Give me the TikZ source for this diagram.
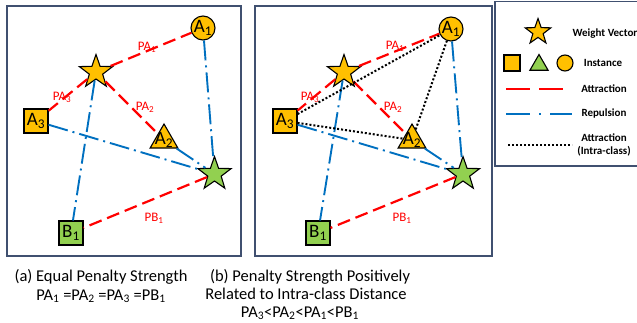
\documentclass[tikz,border=0pt]{standalone}
\usepackage{fontspec}
\setmainfont{Carlito}
\usetikzlibrary{shapes.geometric}
\definecolor{framecol}{RGB}{64,80,112}
\definecolor{yel}{RGB}{255,192,0}
\definecolor{grn}{RGB}{146,208,80}
\definecolor{redc}{RGB}{255,0,0}
\definecolor{bluec}{RGB}{0,112,192}
\tikzset{
  panel/.style={draw=framecol, line width=1.3pt},
  attr/.style={draw=redc, line width=2.2pt, dash pattern=on 13pt off 6pt},
  rep/.style={draw=bluec, line width=1.9pt, dash pattern=on 20pt off 5pt on 2pt off 5pt},
  intra/.style={draw=black, line width=2pt, dash pattern=on 2pt off 2pt},
  wstar/.style={star, star points=5, star point ratio=2.5, minimum size=35pt, inner sep=0pt, draw=black, line width=1.1pt},
  sqn/.style={rectangle, minimum size=24pt, inner sep=0pt, draw=black, line width=1.1pt, font=\fontsize{19}{19}\selectfont},
  circn/.style={circle, minimum size=24pt, inner sep=0pt, draw=black, line width=1.1pt, font=\fontsize{19}{19}\selectfont},
  trin/.style={regular polygon, regular polygon sides=3, minimum size=32pt, inner sep=0pt, draw=black, line width=1.1pt, label={[font=\fontsize{19}{19}\selectfont, inner sep=0pt]center:#1}},
  plab/.style={text=redc, font=\fontsize{13}{13}\selectfont, inner sep=0pt},
  captxt/.style={font=\fontsize{16.5}{16.5}\selectfont, inner sep=0pt, anchor=base},
  leg/.style={font=\fontsize{11}{12.5}\selectfont\bfseries, inner sep=0pt, align=center},
}
\begin{document}
\begin{tikzpicture}[x=1pt, y=-1pt]
\useasboundingbox (0,0) rectangle (637,322);
% panels
\draw[panel] (7,6) rectangle (241,256);
\draw[panel] (255,6) rectangle (492,256);
\draw[panel] (495,1.5) rectangle (645,166);

% ---------- panel (a) ----------
\node[wstar, fill=yel] (wa) at (96,72) {};
\node[wstar, fill=grn] (ga) at (214.5,174) {};
\node[circn, fill=yel] (a1a) at (203,28) {A\textsubscript{1}};
\node[sqn, fill=yel] (a3a) at (36,121) {A\textsubscript{3}};
\node[trin={A\textsubscript{2}}, fill=yel] (a2a) at (164,140) {};
\node[sqn, fill=grn] (b1a) at (71,233) {B\textsubscript{1}};

\draw[rep] (a1a) -- (ga);
\draw[rep] (a3a) -- (ga);
\draw[rep] (a2a) -- (ga);
\draw[rep] (wa) -- (b1a);
\draw[attr] (wa) -- (a1a);
\draw[attr] (wa) -- (a3a);
\draw[attr] (wa) -- (a2a);
\draw[attr] (ga) -- (b1a);

\node[plab] (la1) at (147,47) {PA\textsubscript{1}};
\node[plab] (la3) at (62,97) {PA\textsubscript{3}};
\node[plab] (la2) at (145,107) {PA\textsubscript{2}};
\node[plab] (lb1) at (154,218) {PB\textsubscript{1}};

% ---------- panel (b) ----------
\node[wstar, fill=yel] (wb) at (344,72) {};
\node[wstar, fill=grn] (gb) at (463,174) {};
\node[circn, fill=yel] (a1b) at (451,29) {A\textsubscript{1}};
\node[sqn, fill=yel] (a3b) at (285,121) {A\textsubscript{3}};
\node[trin={A\textsubscript{2}}, fill=yel] (a2b) at (412,140) {};
\node[sqn, fill=grn] (b1b) at (318,233) {B\textsubscript{1}};

\draw[rep] (a1b) -- (gb);
\draw[rep] (a3b) -- (gb);
\draw[rep] (a2b) -- (gb);
\draw[rep] (wb) -- (b1b);
\draw[attr] (wb) -- (a1b);
\draw[attr] (wb) -- (a3b);
\draw[attr] (wb) -- (a2b);
\draw[attr] (gb) -- (b1b);
\draw[intra] (a3b) -- (a1b);
\draw[intra] (a3b) -- (a2b);
\draw[intra] (a2b) -- (a1b);

\node[plab] (lc1) at (395,46) {PA\textsubscript{1}};
\node[plab] (lc3) at (310,97) {PA\textsubscript{3}};
\node[plab] (lc2) at (393,107) {PA\textsubscript{2}};
\node[plab] (ld1) at (402,218) {PB\textsubscript{1}};

% ---------- captions ----------
\node[captxt] (ca1) at (101,281) {(a) Equal Penalty Strength};
\node[captxt] (ca2) at (101,300) {PA\textsubscript{1} =PA\textsubscript{2} =PA\textsubscript{3} =PB\textsubscript{1}};
\node[captxt] (cb1) at (310,281) {(b) Penalty Strength Positively};
\node[captxt] (cb2) at (306,299) {Related to Intra-class Distance};
\node[captxt] (cb3) at (300,317) {PA\textsubscript{3}<PA\textsubscript{2}<PA\textsubscript{1}<PB\textsubscript{1}};

% ---------- legend ----------
\node[wstar, fill=yel, minimum size=27pt] (lstar) at (538,32) {};
\node[leg] (tw) at (605,34) {Weight Vector};
\node[rectangle, draw=black, line width=1.1pt, fill=yel, minimum size=16pt, inner sep=0pt] (lsq) at (512,63) {};
\node[regular polygon, regular polygon sides=3, draw=black, line width=1.1pt, fill=grn, minimum size=21pt, inner sep=0pt] (ltri) at (539,65) {};
\node[circle, draw=black, line width=1.1pt, fill=yel, minimum size=16pt, inner sep=0pt] (lci) at (565,63) {};
\node[leg] (ti) at (603,63) {Instance};
\coordinate (r1) at (506,89); \coordinate (r2) at (564,89);
\draw[draw=redc, line width=2.2pt, dash pattern=on 24pt off 9pt] (r1) -- (r2);
\node[leg] (ta) at (604,89) {Attraction};
\coordinate (u1) at (506,114); \coordinate (u2) at (572,114);
\draw[draw=bluec, line width=1.9pt, dash pattern=on 24pt off 9pt on 2pt off 9pt] (u1) -- (u2);
\node[leg] (tr) at (604,114) {Repulsion};
\coordinate (d1) at (508,145); \coordinate (d2) at (572,145);
\draw[intra] (d1) -- (d2);
\node[leg] (tc) at (604,145) {Attraction\\(Intra-class)};
\end{tikzpicture}
\end{document}
